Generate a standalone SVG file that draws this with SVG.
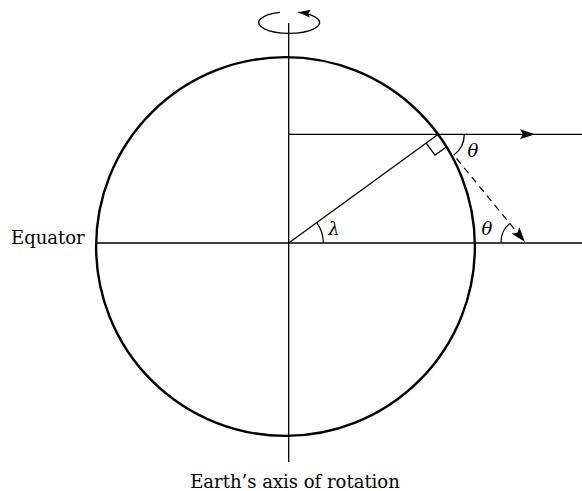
<svg xmlns="http://www.w3.org/2000/svg" width="582" height="491" viewBox="0 0 582 491">
<style>
.ln{fill:none;stroke:#000;stroke-width:1.3}
.earth{fill:none;stroke:#000;stroke-width:2.4}
.dash{fill:none;stroke:#000;stroke-width:1.2;stroke-dasharray:7 5}
.lbl{font-family:"DejaVu Serif","Liberation Serif",serif;font-size:18px;fill:#000}
.sym{font-family:"DejaVu Serif","Liberation Serif",serif;font-size:18px;font-style:italic;fill:#000}
</style>
<defs>
<marker id="arr" markerUnits="userSpaceOnUse" markerWidth="18" markerHeight="12" viewBox="-16 -6 18 12" refX="0" refY="0" orient="auto">
<path d="M0,0 L-15,-5 L-12,0 L-15,5 Z" fill="#000"/>
</marker>
<marker id="arrS" markerUnits="userSpaceOnUse" markerWidth="14" markerHeight="10" viewBox="-13 -5 14 10" refX="0" refY="0" orient="auto">
<path d="M0,0 L-12,-4 L-10,0 L-12,4 Z" fill="#000"/>
</marker>
</defs>
<rect width="582" height="491" fill="#fff"/>
<g id="earth">
<circle class="earth" cx="285.5" cy="246.5" r="189.4"/>
</g>
<g id="rotation">
<path class="ln" d="M280,12.3 A30.5 10.8 0 1 0 298.3,12.3" marker-end="url(#arrS)"/>
</g>
<g id="connectors">
<line id="axis" class="ln" x1="288.7" y1="23" x2="288.7" y2="462"/>
<line id="equator-line" class="ln" x1="96" y1="243" x2="582" y2="243"/>
<path id="top-line" class="ln" d="M288.7,134.3 L535,134.3 L582,134.3" marker-mid="url(#arr)"/>
<line id="radius" class="ln" x1="288.7" y1="243" x2="438.3" y2="134.3"/>
<path id="right-angle" class="ln" d="M426.2,143.1 L435,155.2 L447.1,146.4"/>
<line id="tangent" class="dash" x1="456.5" y1="158.5" x2="525" y2="242" marker-end="url(#arr)"/>
<path id="arc-lambda" class="ln" d="M323.3,243 A34.6 34.6 0 0 0 316.7,222.7"/>
<path id="arc-theta-top" class="ln" d="M464.3,134.3 A26 26 0 0 1 453.6,155.3"/>
<path id="arc-theta-bottom" class="ln" d="M501,242.5 A24 24 0 0 1 509.8,223.4"/>
</g>
<g id="labels">
<text class="lbl" x="11" y="243.5">Equator</text>
<text class="lbl" x="295" y="487.5" text-anchor="middle">Earth’s axis of rotation</text>
<text class="sym" x="473" y="157" text-anchor="middle">θ</text>
<text class="sym" x="487" y="235" text-anchor="middle">θ</text>
<text class="sym" x="334" y="235" text-anchor="middle">λ</text>
</g>
</svg>
